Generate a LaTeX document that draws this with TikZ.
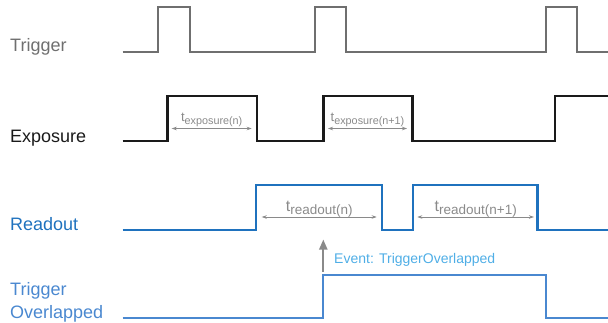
\documentclass[tikz,border=0pt]{standalone}
\usepackage{fontspec}
\setmainfont{Liberation Sans}
\usetikzlibrary{arrows.meta}
\definecolor{trig}{HTML}{6F6F6F}
\definecolor{expo}{HTML}{1A1A1A}
\definecolor{rdout}{HTML}{1F72BE}
\definecolor{ovl}{HTML}{4A88D0}
\definecolor{evt}{HTML}{4FAEE6}
\definecolor{dimc}{HTML}{8A8A8A}
\newcommand{\tsmall}[1]{{\fontsize{13pt}{13pt}\selectfont t}\raisebox{-3pt}{\fontsize{10.8pt}{11pt}\selectfont #1}}
\newcommand{\tbig}[1]{{\fontsize{16pt}{16pt}\selectfont t}\raisebox{-3pt}{\fontsize{13.5pt}{14pt}\selectfont #1}}
\begin{document}
\begin{tikzpicture}[x=1pt,y=-1pt,
  wave/.style={line join=miter, line cap=butt},
  siglabel/.style={anchor=base west, inner sep=0pt, font=\fontsize{18pt}{22pt}\selectfont},
  dimline/.style={draw=dimc, line width=0.9pt, {Stealth[length=5pt,width=3.5pt]}-{Stealth[length=5pt,width=3.5pt]}},
  dimlabel/.style={anchor=base, inner sep=0pt, text=dimc},
]
\useasboundingbox (0,0) rectangle (608,322);

% signal labels
\node[siglabel, text=trig] (ltrig) at (10,51.7) {Trigger};
\node[siglabel, text=expo] (lexpo) at (10,142.7) {Exposure};
\node[siglabel, text=rdout] (lread) at (10,230) {Readout};
\node[siglabel, text=ovl] (lovl1) at (10,295.7) {Trigger};
\node[siglabel, text=ovl] (lovl2) at (10,318.3) {Overlapped};

% waveforms
\draw[wave, trig, line width=2pt] (122.7,51.7) -- (158,51.7) -- (158,6.7) -- (190,6.7) -- (190,51.7)
  -- (315,51.7) -- (315,6.7) -- (345.7,6.7) -- (345.7,51.7)
  -- (545.7,51.7) -- (545.7,6.7) -- (576.7,6.7) -- (576.7,51.7) -- (608,51.7);
\draw[wave, expo, line width=2.4pt] (122.7,140.7) -- (167.3,140.7) -- (167.3,96) -- (257,96) -- (257,140.7)
  -- (323.3,140.7) -- (323.3,96) -- (412.3,96) -- (412.3,140.7)
  -- (554.7,140.7) -- (554.7,96) -- (608,96);
\draw[wave, rdout, line width=2.4pt] (122.7,230) -- (256,230) -- (256,185) -- (381.7,185) -- (381.7,230)
  -- (413,230) -- (413,185) -- (537.3,185) -- (537.3,230) -- (608,230);
\draw[wave, ovl, line width=2pt] (122.7,318.3) -- (323.3,318.3) -- (323.3,275) -- (545.7,275)
  -- (545.7,318.3) -- (608,318.3);

% dimension arrows
\coordinate (e1a) at (171.7,128.5);
\coordinate (e1b) at (251.7,128.5);
\draw[dimline] (e1a) -- (e1b);
\node[dimlabel] (le1) at (211.7,121.5) {\tsmall{exposure(n)}};
\coordinate (e2a) at (328,128.5);
\coordinate (e2b) at (407,128.5);
\draw[dimline] (e2a) -- (e2b);
\node[dimlabel] (le2) at (367.5,121.5) {\tsmall{exposure(n+1)}};
\coordinate (r1a) at (261.7,217);
\coordinate (r1b) at (376.7,217);
\draw[dimline] (r1a) -- (r1b);
\node[dimlabel] (lr1) at (319.2,211) {\tbig{readout(n)}};
\coordinate (r2a) at (417.3,217);
\coordinate (r2b) at (534,217);
\draw[dimline] (r2a) -- (r2b);
\node[dimlabel] (lr2) at (475.7,211) {\tbig{readout(n+1)}};

% event arrow
\coordinate (eva) at (323.3,271.5);
\coordinate (evb) at (323.3,239.5);
\draw[dimc, line width=2pt, -{Triangle[length=10pt,width=8pt]}] (eva) -- (evb);
\node[anchor=base west, inner sep=0pt, text=evt, font=\fontsize{14pt}{14pt}\selectfont] (levt) at (334,263.3) {Event: TriggerOverlapped};
\end{tikzpicture}
\end{document}
